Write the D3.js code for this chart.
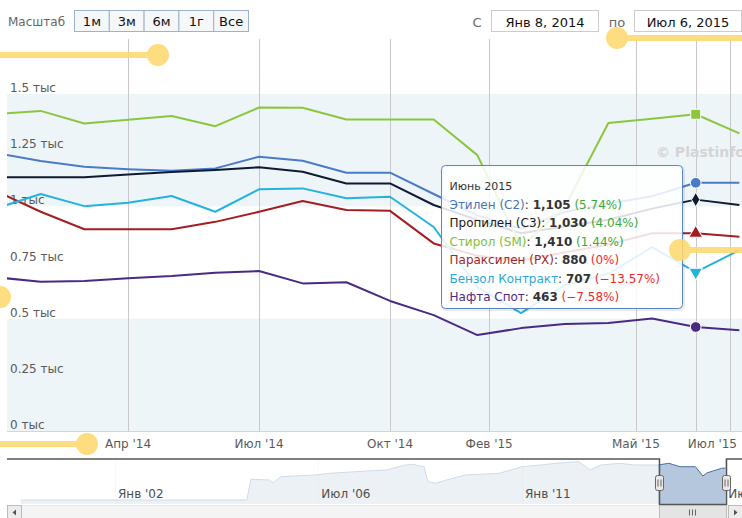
<!DOCTYPE html>
<html>
<head>
<meta charset="utf-8">
<script src="https://cdn.jsdelivr.net/npm/d3@7"></script>
<style>
  body { margin: 0; background: #fff; }
  svg { display: block; font-family: "DejaVu Sans", sans-serif; }
</style>
</head>
<body>
<svg id="chart" width="742" height="518"></svg>
<script>
////////////////////////////////////////////
// data
////////////////////////////////////////////

// monthly prices, one value per point of the ordinal x axis
var names = ["Этилен (С2)", "Пропилен (С3)", "Стирол (SM)", "Параксилен (PX)", "Бензол Контракт", "Нафта Спот"];
var ethylene  = [1236, 1202, 1176, 1165, 1158, 1169, 1221, 1203, 1150, 1150, 1055, 960, 900, 975, 1012, 1045, 1105, 1105];
var propylene = [1130, 1130, 1130, 1142, 1153, 1162, 1174, 1154, 1102, 1102, 1006, 940, 880, 910, 940, 990, 1030, 1006];
var styrene   = [1411, 1425, 1369, 1385, 1402, 1357, 1440, 1439, 1387, 1387, 1387, 1228, 820, 997, 1371, 1390, 1410, 1325];
var paraxylene= [1066, 976, 898, 898, 898, 931, 976, 1024, 984, 980, 835, 780, 760, 795, 830, 880, 880, 865];
var benzene   = [992, 1055, 1001, 1016, 1046, 976, 1076, 1080, 1036, 1043, 908, 640, 525, 650, 700, 818, 707, 805];
var naphtha   = [684, 664, 668, 680, 690, 705, 712, 657, 662, 579, 516, 427, 458, 476, 481, 501, 463, 449];

var hoverIndex = 16;
var hoverTitle = "Июнь 2015";

var yTicks = [0, 250, 500, 750, 1000, 1250, 1500];
var yBands = [[0, 500], [1000, 1500]];
// ordinal axis: tick positions measured in point units
var xTickAt = [3, 6, 9, 11.27, 14.63, 16.79];
var xTickLabels = ["Апр '14", "Июл '14", "Окт '14", "Фев '15", "Май '15", "Июл '15"];

// navigator series (full history)
var navDates = ["1999-12", "2004-12", "2005-01", "2005-06", "2005-07", "2005-09", "2006-06", "2006-10",
  "2007-08", "2008-01", "2008-06", "2008-08", "2008-11", "2008-12", "2009-02", "2009-05", "2009-10",
  "2010-07", "2011-01", "2011-06", "2011-10", "2012-04", "2012-06", "2012-07", "2012-10", "2013-03",
  "2013-07", "2014-01", "2014-04", "2014-07", "2014-11", "2015-01", "2015-02", "2015-06", "2015-07"];
var navValues = [99, 99, 781, 758, 669, 867, 923, 979,
  1055, 1088, 1252, 1276, 1196, 702, 649, 758, 923,
  979, 1196, 1252, 1308, 1361, 1196, 1088, 1252, 1308,
  1252, 1252, 1308, 1196, 1196, 890, 989, 1144, 1150];
var navTicks = ["2002-01-01", "2006-07-01", "2011-01-01", "2015-07-01"];
var navTickLabels = ["Янв '02", "Июл '06", "Янв '11", "Июл '15"];

var rangeFrom = "2014-01-08", rangeTo = "2015-07-06";
var rangeFromLabel = "Янв 8, 2014", rangeToLabel = "Июл 6, 2015";
var rangeButtons = ["1м", "3м", "6м", "1г", "Все"];

////////////////////////////////////////////
// styles
////////////////////////////////////////////
var colors = ["#4a7bc8", "#0f1b31", "#8cc63f", "#a31e22", "#25b3de", "#4b2a84"];
var textColors = ["#4a74b8", "#1a1a1a", "#7fbf3a", "#a3262a", "#2aa8d8", "#4b2a84"];
var symbols = [d3.symbolCircle, d3.symbolDiamond, d3.symbolSquare, d3.symbolTriangle, d3.symbolTriangle, d3.symbolCircle];
var symbolSize = [90, 60, 100, 80, 80, 90];

////////////////////////////////////////////
// svg chart
////////////////////////////////////////////
var svg = d3.select("svg#chart");
var W = +svg.attr("width");
var plot = {left: 7, top: 39, bottom: 431, right: 760};
var series = [ethylene, propylene, styrene, paraxylene, benzene, naphtha];

var x = d3.scaleLinear()
    .domain([0, 17])
    .range([-3, -3 + 17 * 43.67]);
var y = d3.scaleLinear()
    .domain([0, 1745])
    .range([plot.bottom, plot.top]);

svg.append("defs").append("clipPath").attr("id", "clip")
  .append("rect")
    .attr("x", plot.left).attr("y", plot.top)
    .attr("width", plot.right - plot.left).attr("height", plot.bottom - plot.top);

//bands
svg.append("g").selectAll("rect")
  .data(yBands)
  .enter().append("rect")
    .attr("x", plot.left)
    .attr("width", plot.right - plot.left)
    .attr("y", d => y(d[1]))
    .attr("height", d => y(d[0]) - y(d[1]))
    .attr("fill", "#edf5f9");

//x grid + crosshair
svg.append("g").selectAll("line")
  .data(xTickAt.concat([hoverIndex]))
  .enter().append("line")
    .attr("x1", d => Math.round(x(d)) + 0.5)
    .attr("x2", d => Math.round(x(d)) + 0.5)
    .attr("y1", plot.top)
    .attr("y2", plot.bottom)
    .attr("stroke", "#c8c8c8");

//x axis line
svg.append("line")
  .attr("x1", plot.left).attr("x2", W)
  .attr("y1", plot.bottom + 0.5).attr("y2", plot.bottom + 0.5)
  .attr("stroke", "#c8d8e6");

//y labels
svg.append("g").selectAll("text")
  .data(yTicks)
  .enter().append("text")
    .attr("x", 10)
    .attr("y", d => y(d) - 2)
    .attr("font-size", "12px")
    .attr("fill", "#5a5a5a")
    .text(d => d3.format("~g")(d / 1000) + " тыс");

//x labels
svg.append("g").selectAll("text")
  .data(xTickAt)
  .enter().append("text")
    .attr("x", d => x(d))
    .attr("y", 448)
    .attr("text-anchor", "middle")
    .attr("font-size", "12px")
    .attr("fill", "#5a5a5a")
    .text((d, i) => xTickLabels[i])
    .each(function () {
      // keep label inside the chart like highstock does
      var b = this.getBBox();
      if (b.x + b.width > W - 5) d3.select(this).attr("x", +d3.select(this).attr("x") - (b.x + b.width - (W - 5)));
    });

//watermark
svg.append("text")
  .attr("x", 656).attr("y", 157)
  .attr("font-size", "14px").attr("font-weight", "bold")
  .attr("fill", "#d4d4d4")
  .text("© Plastinfo.ru");

//lines
var line = d3.line().x((d, i) => x(i)).y(d => y(d));
var gl = svg.append("g").attr("clip-path", "url(#clip)");
gl.selectAll("path")
  .data(series)
  .enter().append("path")
    .attr("d", line)
    .attr("fill", "none")
    .attr("stroke", (d, i) => colors[i])
    .attr("stroke-width", 2)
    .attr("stroke-linejoin", "round");

//hover markers
gl.selectAll("path.marker")
  .data(series)
  .enter().append("path")
    .attr("class", "marker")
    .attr("d", (d, i) => d3.symbol().type(symbols[i]).size(symbolSize[i])())
    .attr("transform", (d, i) => `translate(${x(hoverIndex)},${y(d[hoverIndex])})` + (i == 4 ? " rotate(180)" : ""))
    .attr("fill", (d, i) => colors[i])
    .attr("stroke", "#fff")
    .attr("stroke-width", 1);

////////////////////////////////////////////
// tooltip
////////////////////////////////////////////
var tipW = 241, tipH = 143;
var tipX = Math.round(x(hoverIndex)) - 14 - tipW + 0.5, tipY = 165.5;
var tip = svg.append("g").attr("transform", `translate(${tipX},${tipY})`);
tip.append("rect")
  .attr("x", 1).attr("y", 1).attr("width", tipW).attr("height", tipH).attr("rx", 4)
  .attr("fill", "none").attr("stroke", "#000").attr("stroke-opacity", 0.08).attr("stroke-width", 3);
tip.append("rect")
  .attr("width", tipW).attr("height", tipH).attr("rx", 4)
  .attr("fill", "#fff").attr("fill-opacity", 0.86)
  .attr("stroke", "#5b86c6").attr("stroke-width", 1);
tip.append("text")
  .attr("x", 8).attr("y", 24)
  .attr("font-size", "11px").attr("fill", "#333")
  .text(hoverTitle);

var pctFmt = d3.format(".2~f");
var rows = tip.selectAll("text.row")
  .data(series)
  .enter().append("text")
    .attr("class", "row")
    .attr("x", 8)
    .attr("y", (d, i) => 43 + i * 18.5)
    .attr("font-size", "12px")
    .attr("fill", "#333");
rows.append("tspan").attr("fill", (d, i) => textColors[i]).text((d, i) => names[i]);
rows.append("tspan").text(": ");
rows.append("tspan").attr("font-weight", "bold").text(d => d3.format(",")(d[hoverIndex]));
rows.append("tspan").text(" ");
rows.append("tspan")
  .attr("fill", d => d[hoverIndex] > d[hoverIndex - 1] ? "#3aa83f" : "#ee2a2e")
  .text(d => "(" + pctFmt((d[hoverIndex] / d[hoverIndex - 1] - 1) * 100) + "%)");

////////////////////////////////////////////
// range selector
////////////////////////////////////////////
svg.append("text")
  .attr("x", 8).attr("y", 26)
  .attr("font-size", "12px").attr("fill", "#666")
  .text("Масштаб");

var btn = svg.append("g").selectAll("g")
  .data(rangeButtons)
  .enter().append("g")
    .attr("transform", (d, i) => `translate(${74.5 + i * 34.8},10.5)`);
btn.append("rect")
  .attr("width", 34.8).attr("height", 21)
  .attr("fill", "#f6f7f9").attr("stroke", "#9db2cf");
btn.append("text")
  .attr("x", 17.4).attr("y", 15.5)
  .attr("text-anchor", "middle")
  .attr("font-size", "13px").attr("fill", "#111")
  .text(d => d);

svg.append("text")
  .attr("x", 477).attr("y", 27)
  .attr("text-anchor", "middle")
  .attr("font-size", "13px").attr("fill", "#666")
  .text("С");
svg.append("text")
  .attr("x", 617).attr("y", 27)
  .attr("text-anchor", "middle")
  .attr("font-size", "13px").attr("fill", "#666")
  .text("по");

var inputs = svg.append("g").selectAll("g")
  .data([rangeFromLabel, rangeToLabel])
  .enter().append("g")
    .attr("transform", (d, i) => `translate(${i ? 634.5 : 491.5},10.5)`);
inputs.append("rect")
  .attr("width", 107).attr("height", 21)
  .attr("fill", "#fff").attr("stroke", "#cccccc");
inputs.append("text")
  .attr("x", 53.5).attr("y", 16)
  .attr("text-anchor", "middle")
  .attr("font-size", "13px").attr("fill", "#111")
  .text(d => d);

////////////////////////////////////////////
// navigator
////////////////////////////////////////////
var nav = {top: 459, bottom: 504};
var parse = d3.utcParse("%Y-%m");
var parseDay = d3.utcParse("%Y-%m-%d");
var navX = d3.scaleUtc()
    .domain([parseDay("2002-01-01"), parseDay("2011-01-01")])
    .range([115, 522]);
var navY = d3.scaleLinear()
    .domain([0, 1450])
    .range([nav.bottom - 1, nav.top]);
var navData = navDates.map((d, i) => ({date: parse(d), v: navValues[i]}));
var s0 = navX(parseDay(rangeFrom)), s1 = navX(parseDay(rangeTo));

var gn = svg.append("g");
gn.selectAll("line.grid")
  .data(navTicks)
  .enter().append("line")
    .attr("class", "grid")
    .attr("x1", d => Math.round(navX(parseDay(d))) + 0.5)
    .attr("x2", d => Math.round(navX(parseDay(d))) + 0.5)
    .attr("y1", nav.top).attr("y2", nav.bottom)
    .attr("stroke", "#e4e4e4");
gn.append("path")
  .datum(navData)
  .attr("d", d3.area().x(d => navX(d.date)).y0(nav.bottom).y1(d => navY(d.v)))
  .attr("fill", "#4572A7").attr("fill-opacity", 0.4);
gn.append("path")
  .datum(navData)
  .attr("d", d3.line().x(d => navX(d.date)).y(d => navY(d.v)))
  .attr("fill", "none").attr("stroke", "#4572A7").attr("stroke-width", 1);

//masks
gn.append("rect")
  .attr("x", plot.left).attr("y", nav.top).attr("width", s0 - plot.left).attr("height", nav.bottom - nav.top)
  .attr("fill", "#fff").attr("fill-opacity", 0.75);
gn.append("rect")
  .attr("x", s1).attr("y", nav.top).attr("width", W - s1).attr("height", nav.bottom - nav.top)
  .attr("fill", "#fff").attr("fill-opacity", 0.75);

//nav labels
gn.selectAll("text")
  .data(navTicks)
  .enter().append("text")
    .attr("x", d => navX(parseDay(d)) + 3)
    .attr("y", 498)
    .attr("font-size", "12px").attr("fill", "#4d4d4d")
    .text((d, i) => navTickLabels[i]);

//outline
gn.append("path")
  .attr("d", `M${plot.left},${nav.top}H${Math.round(s0) + 0.5}V${nav.bottom + 0.5}H${Math.round(s1) + 0.5}V${nav.top}H${W}`)
  .attr("fill", "none").attr("stroke", "#555").attr("stroke-width", 1.5);

//handles
var hd = gn.selectAll("g.handle")
  .data([s0, s1])
  .enter().append("g")
    .attr("class", "handle")
    .attr("transform", d => `translate(${Math.round(d) + 0.5},475.5)`);
hd.append("rect")
  .attr("x", -4).attr("width", 8).attr("height", 15).attr("rx", 2)
  .attr("fill", "#ebe7e8").attr("stroke", "#666");
hd.append("path")
  .attr("d", "M-1.5,4V11M1.5,4V11")
  .attr("stroke", "#666");

//scrollbar
var sb = {top: 505.5, h: 14};
gn.append("rect")
  .attr("x", plot.left + 0.5).attr("y", sb.top).attr("width", W - plot.left).attr("height", sb.h)
  .attr("fill", "#f4f4f4").attr("stroke", "#e6e6e6");
gn.append("rect")
  .attr("x", Math.round(s0) + 0.5).attr("y", sb.top).attr("width", Math.round(s1) - Math.round(s0)).attr("height", sb.h)
  .attr("fill", "#e4e4e4").attr("stroke", "#bbb");
var gx = (s0 + s1) / 2;
gn.append("path")
  .attr("d", `M${Math.round(gx) - 2.5},${sb.top + 4}v6M${Math.round(gx) + 0.5},${sb.top + 4}v6M${Math.round(gx) + 3.5},${sb.top + 4}v6`)
  .attr("stroke", "#666");
[[plot.left + 0.5, -1], [Math.round(s1) + 2.5, 1]].forEach(function (b) {
  gn.append("rect")
    .attr("x", b[0]).attr("y", sb.top).attr("width", 14).attr("height", sb.h)
    .attr("fill", "#ececec").attr("stroke", "#bbb");
  var cx = b[0] + 7, cy = sb.top + 7;
  gn.append("path")
    .attr("d", b[1] < 0 ? `M${cx + 1.5},${cy - 3}L${cx - 2},${cy}L${cx + 1.5},${cy + 3}Z` : `M${cx - 1.5},${cy - 3}L${cx + 2},${cy}L${cx - 1.5},${cy + 3}Z`)
    .attr("fill", "#555");
});

////////////////////////////////////////////
// yellow highlight pointers
////////////////////////////////////////////
var pointers = [
  {x1: 0, x2: 158, y: 55},
  {x1: 617, x2: W, y: 38, dot: 617},
  {x1: 0, x2: 0, y: 297},
  {x1: 0, x2: 87, y: 444},
  {x1: 680, x2: W, y: 250, dot: 680}
];
var gp = svg.append("g").attr("opacity", 0.88);
pointers.forEach(function (p) {
  gp.append("line")
    .attr("x1", p.x1).attr("x2", p.x2).attr("y1", p.y).attr("y2", p.y)
    .attr("stroke", "#fdd96f").attr("stroke-width", 6);
  gp.append("circle")
    .attr("cx", p.dot != null ? p.dot : p.x2).attr("cy", p.y).attr("r", 11)
    .attr("fill", "#fdd96f");
});
</script>
</body>
</html>
